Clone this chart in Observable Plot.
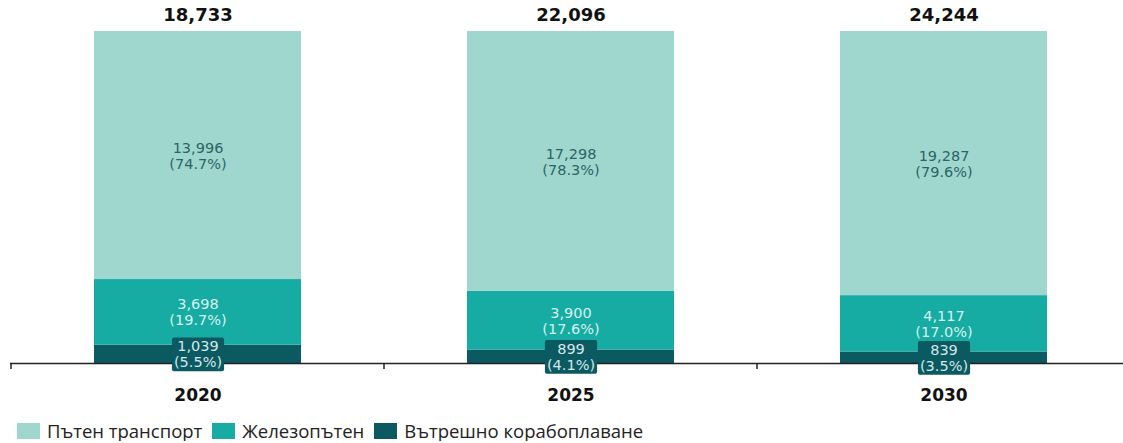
<!DOCTYPE html>
<html>
<head>
<meta charset="utf-8">
<script src="https://cdn.jsdelivr.net/npm/d3@7"></script>
<script src="https://cdn.jsdelivr.net/npm/@observablehq/plot@0.6"></script>
<style>
  html, body { margin: 0; padding: 0; background: #fff; overflow: hidden; }
  #chart { width: 1123px; height: 416px; }
  #chart svg { display: block; }
  #legend { display: flex; align-items: center; height: 20px; line-height: 20px; margin-top: 5px; padding-left: 17px;
    font-family: "Open Sans", sans-serif; font-size: 18.5px; color: #222; }
  .item { display: flex; align-items: center; margin-right: 10px; }
  .sw { width: 23px; height: 16px; margin-right: 7px; }
</style>
</head>
<body>
<div id="chart"></div>
<div id="legend"></div>
<script>
const years = ["2020", "2025", "2030"];
const seriesNames = ["Вътрешно корабоплаване", "Железопътен", "Пътен транспорт"];
const legendOrder = ["Пътен транспорт", "Железопътен", "Вътрешно корабоплаване"];
const inland = [1039, 899, 839];
const rail = [3698, 3900, 4117];
const road = [13996, 17298, 19287];
const inlandPct = [5.5, 4.1, 3.5];
const railPct = [19.7, 17.6, 17.0];
const roadPct = [74.7, 78.3, 79.6];
const totals = [18733, 22096, 24244];

const colors = {"Пътен транспорт": "#9fd7ce", "Железопътен": "#17aca3", "Вътрешно корабоплаване": "#0b5961"};
const textColors = {"Пътен транспорт": "#2c6466", "Железопътен": "#d6f0ed", "Вътрешно корабоплаване": "#d3e8ea"};

const fmt = d3.format(",");
const data = [];
years.forEach((y, i) => {
  data.push({year: y, series: seriesNames[0], value: inland[i], pct: inlandPct[i]});
  data.push({year: y, series: seriesNames[1], value: rail[i], pct: railPct[i]});
  data.push({year: y, series: seriesNames[2], value: road[i], pct: roadPct[i]});
});
const totalData = years.map((y, i) => ({year: y, total: totals[i]}));

const labelMark = (name) => Plot.text(data, Plot.stackY({
  x: "year", y: "value", z: "series", offset: "normalize",
  text: d => d.series === name ? `${fmt(d.value)}\n(${d.pct.toFixed(1)}%)` : null,
  fill: textColors[name], fontSize: 14.5, lineHeight: 1.1,
  ariaDescription: name === seriesNames[0] ? "inland-labels" : undefined
}));

const chart = Plot.plot({
  width: 1123,
  height: 416,
  marginTop: 31,
  marginBottom: 53,
  marginLeft: 10,
  marginRight: 0,
  style: {fontFamily: "DejaVu Sans, Verdana, sans-serif", background: "#fff"},
  x: {domain: years, range: [10, 1131], paddingInner: 0.446, paddingOuter: 0.223, label: null},
  y: {domain: [0, 1], axis: null},
  color: {domain: seriesNames, range: seriesNames.map(s => colors[s])},
  marks: [
    Plot.barY(data, Plot.stackY({x: "year", y: "value", z: "series", fill: "series", offset: "normalize"})),
    Plot.ruleY([0], {stroke: "#222", strokeWidth: 1.5}),
    labelMark(seriesNames[2]),
    labelMark(seriesNames[1]),
    labelMark(seriesNames[0]),
    Plot.text(totalData, {x: "year", frameAnchor: "top", lineAnchor: "middle", dy: -16, text: d => fmt(d.total),
      fontSize: 18, fontWeight: "bold", fill: "#111"}),
    Plot.axisX({tickSize: 0, tickPadding: 25, fontSize: 17, fontWeight: "bold", label: null, fill: "#111"})
  ]
});
document.getElementById("chart").appendChild(chart);

// dark boxes behind inland labels
const inlandG = chart.querySelector('g[aria-description="inland-labels"]');
if (inlandG) {
  inlandG.querySelectorAll("text").forEach(t => {
    const b = t.getBBox();
    const r = document.createElementNS("http://www.w3.org/2000/svg", "rect");
    r.setAttribute("x", b.x - 2);
    r.setAttribute("y", b.y - 1);
    r.setAttribute("width", b.width + 4);
    r.setAttribute("height", b.height + 2);
    r.setAttribute("rx", 2);
    r.setAttribute("fill", colors[seriesNames[0]]);
    const tr = t.getAttribute("transform");
    if (tr) r.setAttribute("transform", tr);
    t.parentNode.insertBefore(r, t);
  });
}

// small ticks at category boundaries
const sx = chart.scale("x");
const sy = chart.scale("y");
const y0 = sy.apply(0);
const gTicks = d3.select(chart).append("g").attr("stroke", "#222").attr("stroke-width", 1.5);
years.forEach(y => {
  const xb = sx.apply(y) - (sx.step - sx.bandwidth) / 2;
  gTicks.append("line").attr("x1", xb).attr("x2", xb).attr("y1", y0).attr("y2", y0 + 6);
});

// legend
const legend = d3.select("#legend");
legendOrder.forEach(s => {
  const it = legend.append("div").attr("class", "item");
  it.append("div").attr("class", "sw").style("background", colors[s]);
  it.append("span").text(s);
});
</script>
</body>
</html>
